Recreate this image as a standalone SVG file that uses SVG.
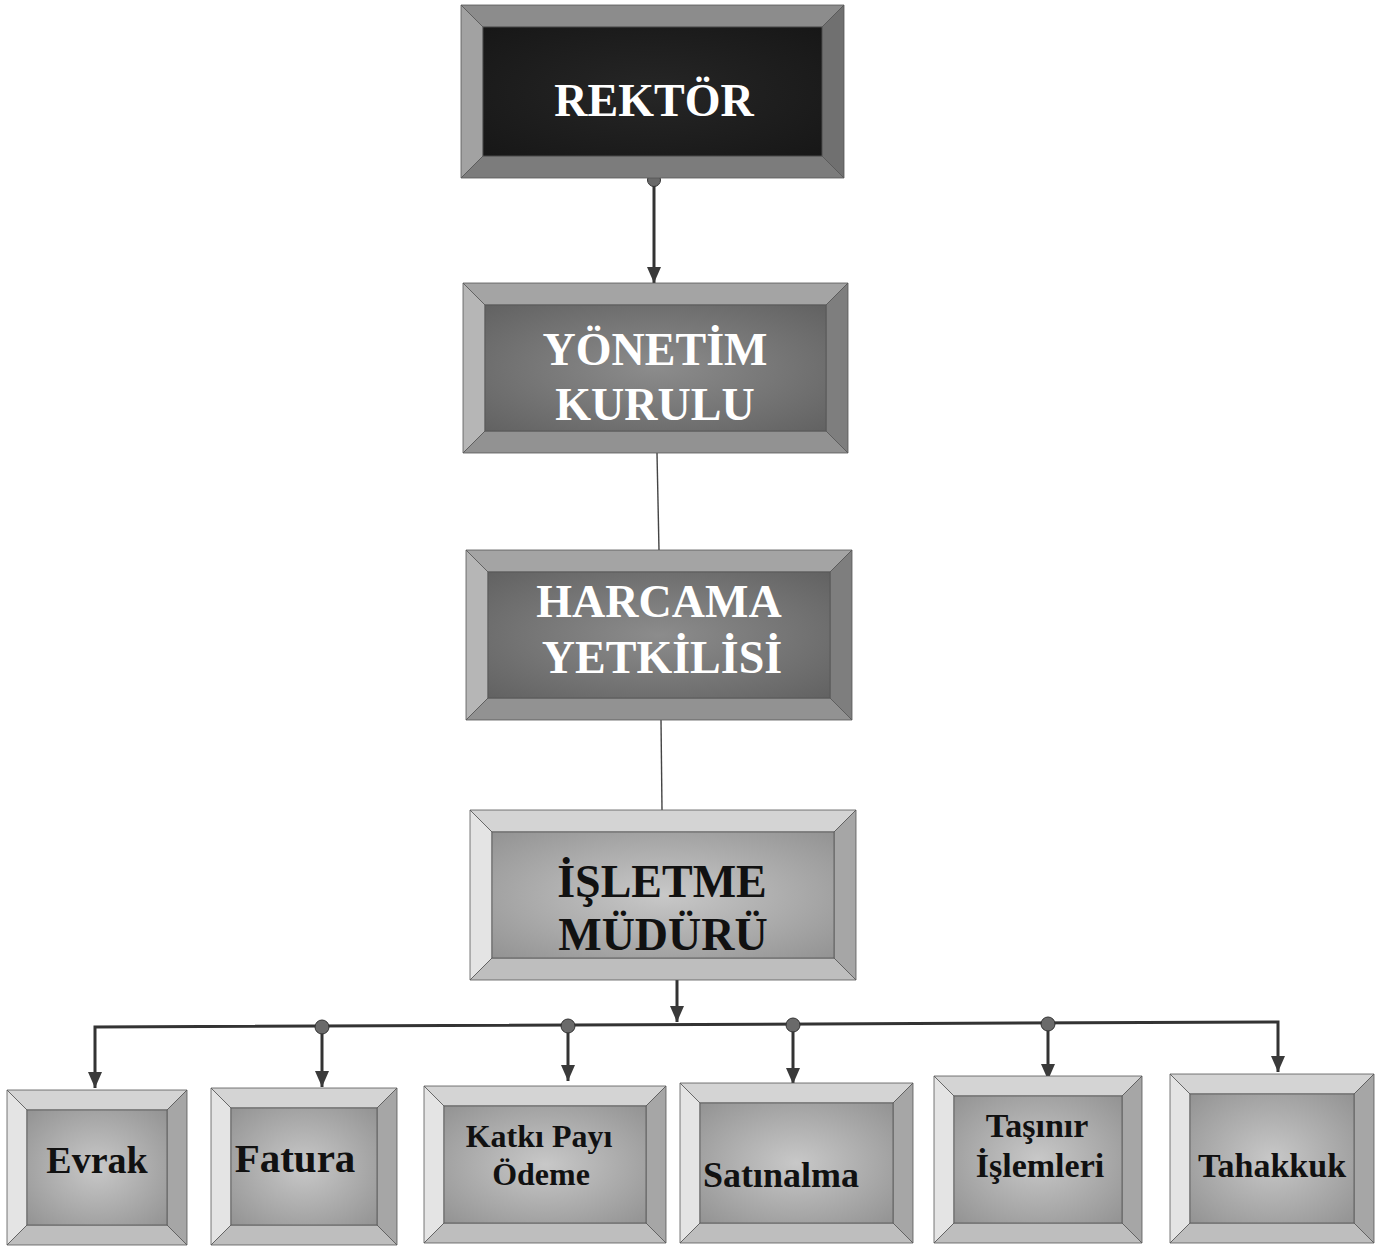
<svg xmlns="http://www.w3.org/2000/svg" width="1391" height="1250" viewBox="0 0 1391 1250">
<defs>
<marker id="arr" viewBox="0 0 16 14" refX="16" refY="7" markerWidth="16" markerHeight="14" markerUnits="userSpaceOnUse" orient="auto-start-reverse">
<path d="M0,0 L16,7 L0,14 Z" fill="#3a3a3a"/>
</marker>
<radialGradient id="gMid" cx="0.5" cy="0.5" r="0.7">
<stop offset="0" stop-color="#8c8c8c"/><stop offset="1" stop-color="#626262"/>
</radialGradient>
<radialGradient id="gLight" cx="0.5" cy="0.5" r="0.7">
<stop offset="0" stop-color="#c8c8c8"/><stop offset="1" stop-color="#939393"/>
</radialGradient>
<radialGradient id="gDark" cx="0.5" cy="0.5" r="0.7">
<stop offset="0" stop-color="#262626"/><stop offset="1" stop-color="#171717"/>
</radialGradient>
</defs>
<style>
.dk .t{fill:#8c8c8c}.dk .l{fill:#a2a2a2}.dk .r{fill:#707070}.dk .b{fill:#7c7c7c}
.md .t{fill:#a4a4a4}.md .l{fill:#b6b6b6}.md .r{fill:#7e7e7e}.md .b{fill:#929292}
.lt .t{fill:#d4d4d4}.lt .l{fill:#e4e4e4}.lt .r{fill:#a6a6a6}.lt .b{fill:#bebebe}
.node polygon,.node rect{stroke:#555;stroke-width:0.8}
.big{font-family:"Liberation Serif",serif;font-weight:bold;font-size:46px;text-anchor:middle}
.sm{font-family:"Liberation Serif",serif;font-weight:bold;text-anchor:middle;fill:#111}
.w{fill:#ffffff}.k{fill:#111111}
.c{stroke:#333;stroke-width:3;fill:none}
.thin{stroke:#444;stroke-width:1.4;fill:none}
.dot{fill:#6a6a6a;stroke:#333;stroke-width:1}
</style>
<rect width="1391" height="1250" fill="#ffffff"/>

<g id="connectors">
<line class="c" x1="654" y1="180" x2="654" y2="283" marker-end="url(#arr)"/>
<circle class="dot" cx="654" cy="180" r="6.5"/>
<line class="thin" x1="657" y1="453" x2="659" y2="550"/>
<line class="thin" x1="661" y1="720" x2="662" y2="810"/>
<line class="c" x1="677" y1="980" x2="677" y2="1022" marker-end="url(#arr)"/>
<polyline class="c" points="95,1088 95,1027 1278,1022 1278,1072" marker-end="url(#arr)" marker-start="url(#arr)"/>
<line class="c" x1="322" y1="1027" x2="322" y2="1087" marker-end="url(#arr)"/>
<line class="c" x1="568" y1="1026" x2="568" y2="1081" marker-end="url(#arr)"/>
<line class="c" x1="793" y1="1025" x2="793" y2="1084" marker-end="url(#arr)"/>
<line class="c" x1="1048" y1="1024" x2="1048" y2="1080" marker-end="url(#arr)"/>
<circle class="dot" cx="322" cy="1027" r="7"/>
<circle class="dot" cx="568" cy="1026" r="7"/>
<circle class="dot" cx="793" cy="1025" r="7"/>
<circle class="dot" cx="1048" cy="1024" r="7"/>
</g>

<g id="rektor" class="node dk">
<polygon class="t" points="461,5 844,5 822,27 483,27"/>
<polygon class="l" points="461,5 483,27 483,156 461,178"/>
<polygon class="r" points="844,5 844,178 822,156 822,27"/>
<polygon class="b" points="461,178 483,156 822,156 844,178"/>
<rect x="483" y="27" width="339" height="129" fill="url(#gDark)"/>
<text class="big w" x="654" y="116">REKTÖR</text>
</g>

<g id="yonetim" class="node md">
<polygon class="t" points="463,283 848,283 826,305 485,305"/>
<polygon class="l" points="463,283 485,305 485,431 463,453"/>
<polygon class="r" points="848,283 848,453 826,431 826,305"/>
<polygon class="b" points="463,453 485,431 826,431 848,453"/>
<rect x="485" y="305" width="341" height="126" fill="url(#gMid)"/>
<text class="big w" x="655" y="365">YÖNETİM</text>
<text class="big w" x="655" y="420">KURULU</text>
</g>

<g id="harcama" class="node md">
<polygon class="t" points="466,550 852,550 830,572 488,572"/>
<polygon class="l" points="466,550 488,572 488,698 466,720"/>
<polygon class="r" points="852,550 852,720 830,698 830,572"/>
<polygon class="b" points="466,720 488,698 830,698 852,720"/>
<rect x="488" y="572" width="342" height="126" fill="url(#gMid)"/>
<text class="big w" x="659" y="617">HARCAMA</text>
<text class="big w" x="662" y="673">YETKİLİSİ</text>
</g>

<g id="isletme" class="node lt">
<polygon class="t" points="470,810 856,810 834,832 492,832"/>
<polygon class="l" points="470,810 492,832 492,958 470,980"/>
<polygon class="r" points="856,810 856,980 834,958 834,832"/>
<polygon class="b" points="470,980 492,958 834,958 856,980"/>
<rect x="492" y="832" width="342" height="126" fill="url(#gLight)"/>
<text class="big k" x="662" y="897">İŞLETME</text>
<text class="big k" x="663" y="950">MÜDÜRÜ</text>
</g>

<g id="evrak" class="node lt">
<polygon class="t" points="7,1090 187,1090 167,1110 27,1110"/>
<polygon class="l" points="7,1090 27,1110 27,1225 7,1245"/>
<polygon class="r" points="187,1090 187,1245 167,1225 167,1110"/>
<polygon class="b" points="7,1245 27,1225 167,1225 187,1245"/>
<rect x="27" y="1110" width="140" height="115" fill="url(#gLight)"/>
<text class="sm" x="97" y="1173" font-size="38">Evrak</text>
</g>

<g id="fatura" class="node lt">
<polygon class="t" points="211,1088 397,1088 377,1108 231,1108"/>
<polygon class="l" points="211,1088 231,1108 231,1225 211,1245"/>
<polygon class="r" points="397,1088 397,1245 377,1225 377,1108"/>
<polygon class="b" points="211,1245 231,1225 377,1225 397,1245"/>
<rect x="231" y="1108" width="146" height="117" fill="url(#gLight)"/>
<text class="sm" x="295" y="1172" font-size="41">Fatura</text>
</g>

<g id="katki" class="node lt">
<polygon class="t" points="424,1086 666,1086 646,1106 444,1106"/>
<polygon class="l" points="424,1086 444,1106 444,1223 424,1243"/>
<polygon class="r" points="666,1086 666,1243 646,1223 646,1106"/>
<polygon class="b" points="424,1243 444,1223 646,1223 666,1243"/>
<rect x="444" y="1106" width="202" height="117" fill="url(#gLight)"/>
<text class="sm" x="539" y="1147" font-size="32">Katkı Payı</text>
<text class="sm" x="541" y="1185" font-size="32">Ödeme</text>
</g>

<g id="satinalma" class="node lt">
<polygon class="t" points="680,1083 913,1083 893,1103 700,1103"/>
<polygon class="l" points="680,1083 700,1103 700,1223 680,1243"/>
<polygon class="r" points="913,1083 913,1243 893,1223 893,1103"/>
<polygon class="b" points="680,1243 700,1223 893,1223 913,1243"/>
<rect x="700" y="1103" width="193" height="120" fill="url(#gLight)"/>
<text class="sm" x="781" y="1187" font-size="36">Satınalma</text>
</g>

<g id="tasinir" class="node lt">
<polygon class="t" points="934,1076 1142,1076 1122,1096 954,1096"/>
<polygon class="l" points="934,1076 954,1096 954,1223 934,1243"/>
<polygon class="r" points="1142,1076 1142,1243 1122,1223 1122,1096"/>
<polygon class="b" points="934,1243 954,1223 1122,1223 1142,1243"/>
<rect x="954" y="1096" width="168" height="127" fill="url(#gLight)"/>
<text class="sm" x="1037" y="1137" font-size="34">Taşınır</text>
<text class="sm" x="1040" y="1177" font-size="34">İşlemleri</text>
</g>

<g id="tahakkuk" class="node lt">
<polygon class="t" points="1170,1074 1374,1074 1354,1094 1190,1094"/>
<polygon class="l" points="1170,1074 1190,1094 1190,1223 1170,1243"/>
<polygon class="r" points="1374,1074 1374,1243 1354,1223 1354,1094"/>
<polygon class="b" points="1170,1243 1190,1223 1354,1223 1374,1243"/>
<rect x="1190" y="1094" width="164" height="129" fill="url(#gLight)"/>
<text class="sm" x="1272" y="1177" font-size="34">Tahakkuk</text>
</g>
</svg>
